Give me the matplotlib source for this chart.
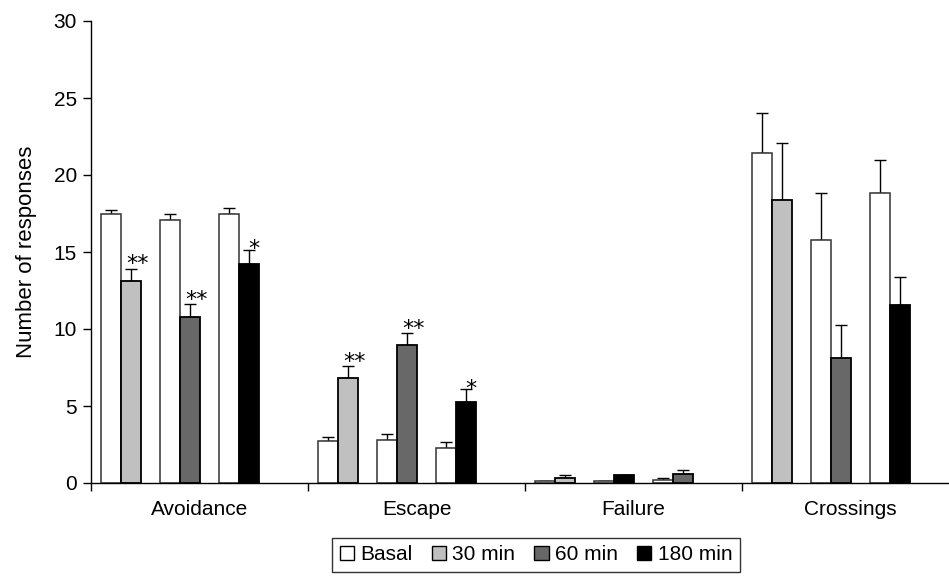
import matplotlib
matplotlib.use("Agg")
import matplotlib.pyplot as plt
from matplotlib.patches import Patch
import numpy as np

plt.rcParams['font.family'] = ['Liberation Sans', 'DejaVu Sans']

categories = ["Avoidance", "Escape", "Failure", "Crossings"]
series_names = ["Basal", "30 min", "60 min", "180 min"]
series_colors = {"Basal": "#ffffff", "30 min": "#c0c0c0", "60 min": "#686868", "180 min": "#000000"}

# treatment shown in each of the three pairs of a category (as drawn)
pair_series = [["30 min", "60 min", "180 min"],
               ["30 min", "60 min", "180 min"],
               ["30 min", "180 min", "60 min"],
               ["30 min", "60 min", "180 min"]]
basal_vals = [[17.45, 17.1, 17.5], [2.7, 2.8, 2.3], [0.13, 0.13, 0.2], [21.4, 15.75, 18.8]]
basal_err = [[0.3, 0.35, 0.35], [0.3, 0.35, 0.35], [0.03, 0.03, 0.15], [2.6, 3.05, 2.15]]
treat_vals = [[13.1, 10.8, 14.25], [6.8, 8.95, 5.25], [0.33, 0.5, 0.56], [18.4, 8.1, 11.55]]
treat_err = [[0.8, 0.8, 0.9], [0.8, 0.78, 0.85], [0.2, 0.05, 0.3], [3.7, 2.15, 1.8]]
signif = [["**", "**", "*"], ["**", "**", "*"], ["", "", ""], ["", "", ""]]

fig = plt.figure(figsize=(9.49, 5.77), dpi=100)
ax = fig.add_axes([91 / 949, 94 / 577, 1 - 91 / 949, (483 - 21) / 577])

pair_offsets = [0.138, 0.410, 0.682]
bw = 0.092
err_kw = dict(ecolor="black", elinewidth=1.0, capsize=4.5, capthick=1.0)

for ci, cat in enumerate(categories):
    for pi in range(3):
        c = ci + pair_offsets[pi]
        xb = c - bw / 2
        xt = c + bw / 2
        ax.bar(xb, basal_vals[ci][pi], width=bw, color=series_colors["Basal"],
               edgecolor="#333333", linewidth=1.1, zorder=2)
        ax.errorbar(xb, basal_vals[ci][pi], yerr=[[0], [basal_err[ci][pi]]], fmt="none",
                    zorder=1, **err_kw)
        s = pair_series[ci][pi]
        ax.bar(xt, treat_vals[ci][pi], width=bw, color=series_colors[s],
               edgecolor="black", linewidth=1.3, zorder=2)
        ax.errorbar(xt, treat_vals[ci][pi], yerr=[[0], [treat_err[ci][pi]]], fmt="none",
                    zorder=1, **err_kw)
        mark = signif[ci][pi]
        if mark:
            top = treat_vals[ci][pi] + treat_err[ci][pi]
            if mark == "**":
                ax.annotate("**", (xt + 0.03, top), xytext=(0, -4), textcoords="offset points",
                            ha="center", va="bottom", fontsize=16, family="DejaVu Sans")
            else:
                ax.annotate("*", (xt + 0.022, top), xytext=(0, -7), textcoords="offset points",
                            ha="center", va="bottom", fontsize=16, family="DejaVu Sans")

ax.set_xlim(0, (949 - 91) / 217)
ax.set_ylim(0, 30)
ax.set_yticks(np.arange(0, 31, 5))
ax.set_xticks([0, 1, 2, 3])
ax.set_xticklabels([])
ax.set_xticks([i + 0.5 for i in range(len(categories))], minor=True)
ax.set_xticklabels(categories, minor=True)
ax.tick_params(axis="x", which="minor", length=0, pad=12, labelsize=15)
ax.tick_params(axis="x", which="major", direction="out", length=6, width=1)
ax.tick_params(axis="y", direction="out", length=6, width=1, labelsize=15, pad=4)
for sp in ["top", "right"]:
    ax.spines[sp].set_visible(False)
ax.spines["left"].set_linewidth(1.0)
ax.spines["bottom"].set_linewidth(1.0)
ax.set_ylabel("Number of responses", fontsize=16, labelpad=12)

handles = [Patch(facecolor=series_colors[n], edgecolor="black", linewidth=1.0) for n in series_names]
leg = fig.legend(handles, series_names, loc="upper center", bbox_to_anchor=(536 / 949, (577 - 538) / 577),
                 ncol=4, frameon=True, fancybox=False, edgecolor="black", fontsize=15,
                 handlelength=0.7, handleheight=0.7, handletextpad=0.3, columnspacing=0.9,
                 borderpad=0.35, borderaxespad=0)
leg.get_frame().set_linewidth(1.0)

fig.savefig("out.png", dpi=100)
